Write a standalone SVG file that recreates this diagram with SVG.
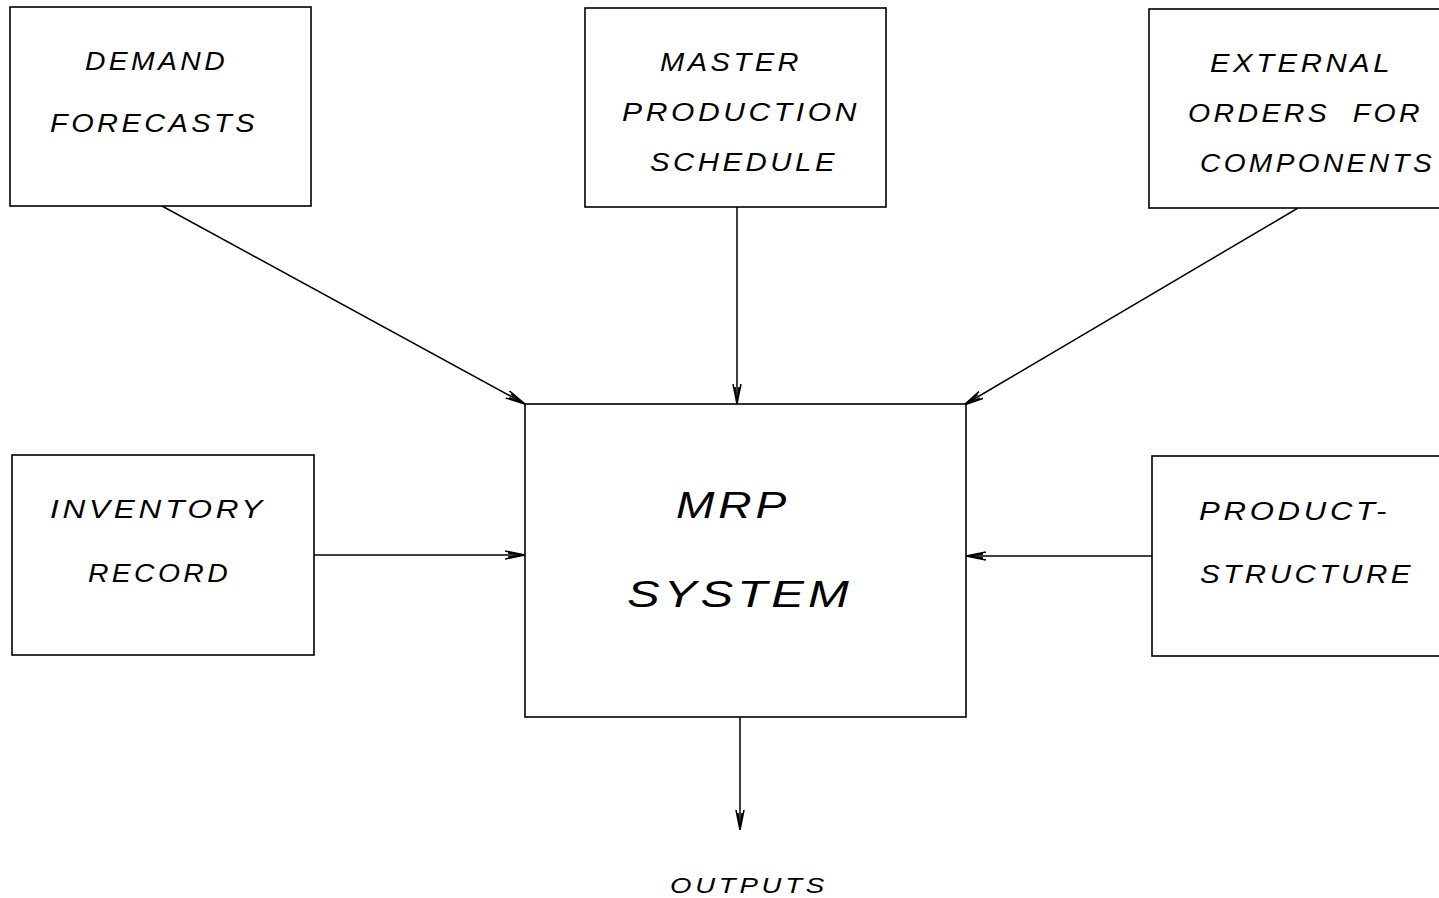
<svg xmlns="http://www.w3.org/2000/svg" width="1439" height="898" viewBox="0 0 1439 898">
  <style>
    .box { fill: #fff; stroke: #000; stroke-width: 1.6; }
    .lbl { font-family: "Liberation Sans", Arial, sans-serif; font-style: italic; font-size: 25px; letter-spacing: 3px; fill: #000; }
    .big { font-size: 36px; }
    .sm { font-size: 22px; }
    .wire { stroke: #000; stroke-width: 1.5; fill: none; marker-end: url(#arr); }
  </style>
  <defs>
    <marker id="arr" viewBox="0 0 20 10" refX="20" refY="5" markerWidth="20" markerHeight="10" markerUnits="userSpaceOnUse" orient="auto">
      <path d="M0,1 L20,5 L0,9 M3,3 L20,5 L3,7" fill="none" stroke="#000" stroke-width="1.5"/>
    </marker>
  </defs>
  <rect width="1439" height="898" fill="#fff"/>

  <g id="connectors">
    <line class="wire" x1="162" y1="206" x2="525" y2="404"/>
    <line class="wire" x1="737" y1="207" x2="737" y2="404"/>
    <line class="wire" x1="1298" y1="208" x2="964" y2="405"/>
    <line class="wire" x1="314" y1="555" x2="525" y2="555"/>
    <line class="wire" x1="1152" y1="556" x2="966" y2="556"/>
    <line class="wire" x1="740" y1="717" x2="740" y2="830"/>
  </g>

  <g id="demand">
    <rect class="box" x="10" y="7" width="301" height="199"/>
    <text class="lbl" x="85" y="70" textLength="143" lengthAdjust="spacingAndGlyphs">DEMAND</text>
    <text class="lbl" x="50" y="132" textLength="208" lengthAdjust="spacingAndGlyphs">FORECASTS</text>
  </g>

  <g id="mps">
    <rect class="box" x="585" y="8" width="301" height="199"/>
    <text class="lbl" x="660" y="71" textLength="142" lengthAdjust="spacingAndGlyphs">MASTER</text>
    <text class="lbl" x="622" y="121" textLength="238" lengthAdjust="spacingAndGlyphs">PRODUCTION</text>
    <text class="lbl" x="650" y="171" textLength="188" lengthAdjust="spacingAndGlyphs">SCHEDULE</text>
  </g>

  <g id="external">
    <rect class="box" x="1149" y="9" width="300" height="199"/>
    <text class="lbl" x="1210" y="72" textLength="183" lengthAdjust="spacingAndGlyphs">EXTERNAL</text>
    <text class="lbl" x="1188" y="122" textLength="235" lengthAdjust="spacingAndGlyphs" xml:space="preserve">ORDERS  FOR</text>
    <text class="lbl" x="1200" y="172" textLength="235" lengthAdjust="spacingAndGlyphs">COMPONENTS</text>
  </g>

  <g id="inventory">
    <rect class="box" x="12" y="455" width="302" height="200"/>
    <text class="lbl" x="50" y="518" textLength="216" lengthAdjust="spacingAndGlyphs">INVENTORY</text>
    <text class="lbl" x="88" y="582" textLength="143" lengthAdjust="spacingAndGlyphs">RECORD</text>
  </g>

  <g id="product">
    <rect class="box" x="1152" y="456" width="297" height="200"/>
    <text class="lbl" x="1199" y="520" textLength="191" lengthAdjust="spacingAndGlyphs">PRODUCT-</text>
    <text class="lbl" x="1200" y="583" textLength="214" lengthAdjust="spacingAndGlyphs">STRUCTURE</text>
  </g>

  <g id="mrp">
    <rect class="box" x="525" y="404" width="441" height="313"/>
    <text class="lbl big" x="676" y="518" textLength="114" lengthAdjust="spacingAndGlyphs">MRP</text>
    <text class="lbl big" x="627" y="607" textLength="226" lengthAdjust="spacingAndGlyphs">SYSTEM</text>
  </g>

  <g id="outputs">
    <text class="lbl sm" x="670" y="893" textLength="158" lengthAdjust="spacingAndGlyphs">OUTPUTS</text>
  </g>
</svg>
